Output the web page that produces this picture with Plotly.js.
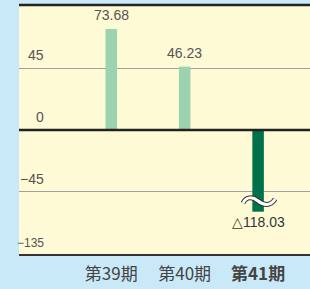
<!DOCTYPE html>
<html>
<head>
<meta charset="utf-8">
<script src="https://cdn.plot.ly/plotly-3.0.1.min.js"></script>
<style>
  html, body { margin: 0; padding: 0; background: #c9e8f8; }
  #chart { width: 310px; height: 289px; }
</style>
</head>
<body>
<div id="chart"></div>
<script>
// ---- data ----
const categories = ["第39期", "第40期", "第41期"];
const values = [73.68, 46.23, -118.03];
const valueLabels = ["73.68", "46.23", "△118.03"];
const tickValues = [45, 0, -45, -135];
const tickLabels = ["45", "0", "−45", "−135"];

// ---- style / scale helpers ----
const LIGHT = "#9bd3b0", DARK = "#00724a";
const BREAK_FROM = -45;          // axis compressed below this value
const AXIS_BOTTOM_VALUE = -135;  // value shown at the bottom edge
const TOP_DISPLAY = 91.2;        // symmetric display range
const K = (TOP_DISPLAY + BREAK_FROM) / (BREAK_FROM - AXIS_BOTTOM_VALUE);
function toAxis(v) { return v >= BREAK_FROM ? v : BREAK_FROM + (v - BREAK_FROM) * K; }
function toPaperY(v) { return (toAxis(v) + TOP_DISPLAY) / (2 * TOP_DISPLAY); }
const BAR_CLIP = -59.6;          // broken bars are drawn as a stub to here
const WAVE_AT = -51.8;           // position of the break symbol
const PX_X = 73.4, PX_Y = 1.371; // pixels per unit (for the break symbol outline)

const xs = categories.map((c, i) => i);
const broken = values.map(v => v < BREAK_FROM);
const barY = values.map((v, i) => broken[i] ? BAR_CLIP : toAxis(v));
const colors = values.map(v => v < 0 ? DARK : LIGHT);

const trace = {
  type: "bar", x: xs, y: barY, width: 0.157,
  marker: { color: colors, line: { width: 0 } },
  hoverinfo: "skip"
};

const annotations = [];
// value labels
values.forEach((v, i) => {
  const neg = v < 0;
  annotations.push({
    x: xs[i], y: barY[i], xref: "x", yref: "y", text: valueLabels[i],
    showarrow: false, xanchor: "center", yanchor: neg ? "top" : "bottom",
    yshift: neg ? 0 : 4,
    font: { family: "Liberation Sans, Arial, sans-serif", size: 14, color: neg ? "#333" : "#555" }
  });
});
// y tick labels (drawn above their lines)
tickValues.forEach((t, i) => {
  annotations.push({
    x: (46 - 19) / 291, xref: "paper", y: toPaperY(t), yref: "paper", text: tickLabels[i],
    showarrow: false, xanchor: "right", yanchor: "bottom", yshift: 3,
    font: { family: "Liberation Sans, Arial, sans-serif", size: t === AXIS_BOTTOM_VALUE ? 12 : 14, color: "#555" }
  });
});

const shapes = [
  { type: "line", xref: "paper", yref: "paper", x0: 0, x1: 1, y0: 1, y1: 1, line: { color: "#222", width: 2.5 }, layer: "above" },
  { type: "line", xref: "paper", yref: "paper", x0: 0, x1: 1, y0: 0, y1: 0, line: { color: "#333", width: 2 }, layer: "above" },
  { type: "line", xref: "paper", yref: "y", x0: 0, x1: 1, y0: 0, y1: 0, line: { color: "#222", width: 2.7 }, layer: "above" }
];
// break symbol on broken bars (tilde-like, offsets given in pixels)
values.forEach((v, i) => {
  if (!broken[i]) return;
  const P = (px, py) => `${xs[i] + px / PX_X},${WAVE_AT - py / PX_Y}`;
  const p = `M ${P(-15, 2)} C ${P(-12, -5)} ${P(-5, -4)} ${P(0, 0)} S ${P(12, 6)} ${P(17, -2)}`;
  shapes.push({ type: "path", xref: "x", yref: "y", path: p, line: { color: "#333", width: 5 }, layer: "above" });
  shapes.push({ type: "path", xref: "x", yref: "y", path: p, line: { color: "#ffffff", width: 3 }, layer: "above" });
});

const layout = {
  width: 310, height: 289,
  margin: { l: 19, r: 0, t: 5, b: 34, pad: 0 },
  paper_bgcolor: "#c9e8f8",
  plot_bgcolor: "#fffad6",
  showlegend: false,
  xaxis: {
    range: [-1.257, 2.707], tickmode: "array", tickvals: xs,
    ticktext: categories.map((c, i) => i === categories.length - 1 ? "<b>" + c + "</b>" : c),
    showgrid: false, zeroline: false, showline: false, ticks: "",
    ticklabelstandoff: 7,
    tickfont: { family: "Noto Sans CJK JP, sans-serif", size: 17, color: "#444" },
    fixedrange: true
  },
  yaxis: {
    range: [-TOP_DISPLAY, TOP_DISPLAY], tickmode: "array",
    tickvals: tickValues.filter(t => t !== 0 && t !== AXIS_BOTTOM_VALUE).map(toAxis),
    showticklabels: false, showgrid: true, gridcolor: "#a0a0a0", gridwidth: 1,
    zeroline: false, showline: false, ticks: "", fixedrange: true
  },
  annotations: annotations,
  shapes: shapes
};

Plotly.newPlot("chart", [trace], layout, { staticPlot: true, displayModeBar: false });
</script>
</body>
</html>
